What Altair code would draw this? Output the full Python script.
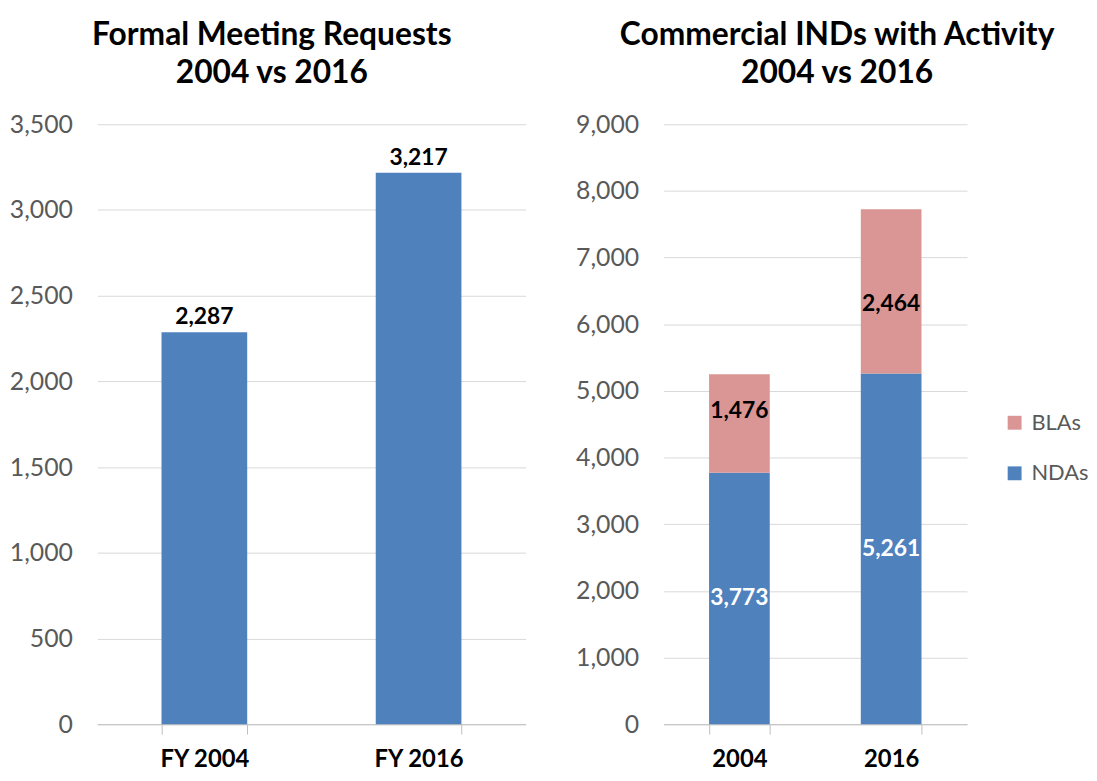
import altair as alt
import pandas as pd

# ---- data ----
left_cats = ["FY 2004", "FY 2016"]
left_vals = [2287, 3217]

right_years = ["2004", "2016"]
series_names = ["NDAs", "BLAs"]
nda_vals = [3773, 5261]
bla_vals = [1476, 2464]

left_ticks = [0, 500, 1000, 1500, 2000, 2500, 3000, 3500]
right_ticks = [0, 1000, 2000, 3000, 4000, 5000, 6000, 7000, 8000, 9000]

left_title = ["Formal Meeting Requests", "2004 vs 2016"]
right_title = ["Commercial INDs with Activity", "2004 vs 2016"]

# ---- style ----
BLUE = "#4F81BD"
PINK = "#D99694"
FONT = "Lato"
GRID = "#D9D9D9"
AXISC = "#BFBFBF"
LABELC = "#595959"

left_df = pd.DataFrame({"cat": left_cats, "value": left_vals})
rows = []
for i, yr in enumerate(right_years):
    rows.append({"year": yr, "series": series_names[0], "value": nda_vals[i], "order": 0})
    rows.append({"year": yr, "series": series_names[1], "value": bla_vals[i], "order": 1})
right_df = pd.DataFrame(rows)


def x_axis():
    return alt.Axis(
        title=None, labelFont=FONT, labelFontSize=24, labelFontWeight="bold",
        labelColor="black", labelAngle=0, domainColor=AXISC, tickColor=AXISC,
        tickSize=10, tickBand="extent", labelPadding=14, grid=False,
    )


def y_axis(vals):
    return alt.Axis(
        title=None, values=vals, format=",.0f", labelFont=FONT, labelFontSize=25,
        labelColor=LABELC, domain=False, ticks=False, gridColor=GRID,
        labelPadding=25, minExtent=90,
    )


def title(lines, dx):
    return alt.TitleParams(
        lines, font=FONT, fontSize=32, fontWeight="bold", color="black",
        lineHeight=38, offset=23, anchor="middle", dx=dx,
    )


band = alt.Scale(paddingInner=0.6, paddingOuter=0.3)
H = 605

# ---- left panel ----
lx = alt.X("cat:N", sort=left_cats, axis=x_axis(), scale=band)
ly = alt.Y("value:Q", scale=alt.Scale(domain=[0, 3500], nice=False), axis=y_axis(left_ticks))
lbase = alt.Chart(left_df)
lbars = lbase.mark_bar(color=BLUE).encode(x=lx, y=ly)
llabels = lbase.mark_text(
    baseline="bottom", dy=-3, font=FONT, fontSize=23, fontWeight="bold", color="black"
).encode(x=lx, y=ly, text=alt.Text("value:Q", format=","))
left = (lbars + llabels).properties(width=432, height=H, title=title(left_title, -40))

# ---- right panel ----
rx = alt.X("year:N", sort=right_years, axis=x_axis(), scale=band)
rscale = alt.Scale(domain=[0, 9000], nice=False)
rbars = alt.Chart(right_df).mark_bar().encode(
    x=rx,
    y=alt.Y("value:Q", stack="zero", scale=rscale, axis=y_axis(right_ticks)),
    color=alt.Color(
        "series:N",
        scale=alt.Scale(domain=["BLAs", "NDAs"], range=[PINK, BLUE]),
        legend=alt.Legend(
            title=None, orient="none", legendX=914, legendY=290, padding=0,
            symbolType="square", symbolSize=196, symbolStrokeWidth=0,
            labelFont=FONT, labelFontSize=22, labelColor=LABELC,
            rowPadding=29, labelOffset=6,
        ),
    ),
    order=alt.Order("order:Q", sort="ascending"),
)

stacked = alt.Chart(right_df).transform_stack(
    stack="value", groupby=["year"], as_=["v0", "v1"],
    sort=[alt.SortField("order", order="ascending")],
).transform_calculate(mid="(datum.v0 + datum.v1) / 2")

ry = alt.Y("mid:Q", scale=rscale, axis=y_axis(right_ticks))
rtext = alt.Text("value:Q", format=",")


def seg_label(cond, colour, dy):
    return stacked.transform_filter(cond).mark_text(
        font=FONT, fontSize=23, fontWeight="bold", color=colour, baseline="middle", dy=dy
    ).encode(x=rx, y=ry, text=rtext)


nda_lab = seg_label(alt.datum.series == "NDAs", "white", 0)
bla_lab_a = seg_label((alt.datum.series == "BLAs") & (alt.datum.year == "2004"), "black", -13)
bla_lab_b = seg_label((alt.datum.series == "BLAs") & (alt.datum.year == "2016"), "black", 13)

right = (rbars + nda_lab + bla_lab_a + bla_lab_b).properties(
    width=306, height=H, title=title(right_title, 22)
)

chart = alt.hconcat(left, right, spacing=49).properties(
    padding={"left": 0, "top": 8, "right": 0, "bottom": 0}
).configure_view(stroke=None)

chart.save("out.html", embed_options={"renderer": "svg", "actions": False})
